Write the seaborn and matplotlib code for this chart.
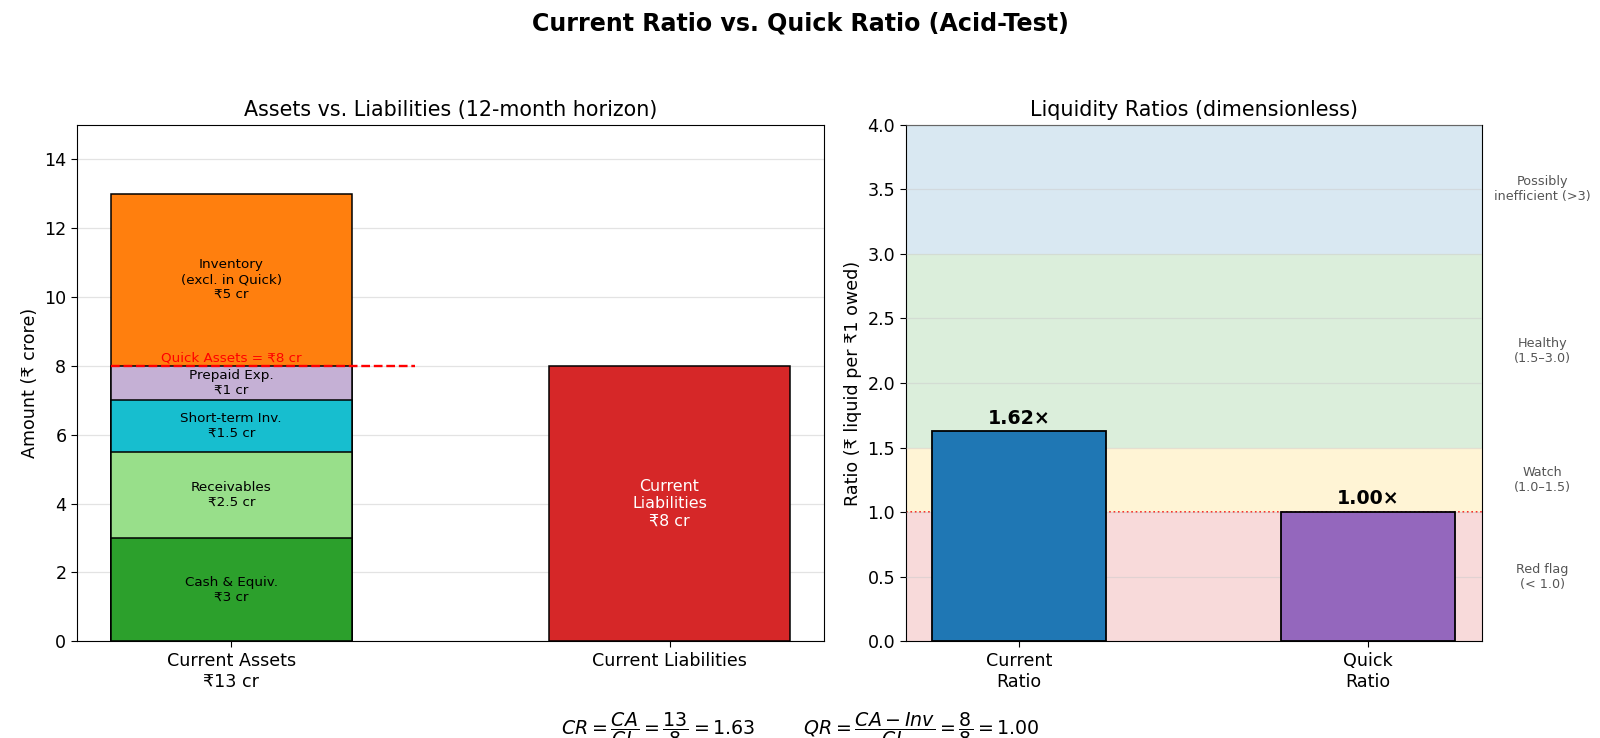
import matplotlib
matplotlib.use("Agg")
import matplotlib.pyplot as plt
import matplotlib.transforms as mtransforms
import seaborn as sns
import pandas as pd

# ---- data ----
asset_items = ["Cash & Equiv.", "Receivables", "Short-term Inv.", "Prepaid Exp.", "Inventory\n(excl. in Quick)"]
asset_values = [3, 2.5, 1.5, 1, 5]
asset_colors = ["#2ca02c", "#98df8a", "#17becf", "#c5b0d5", "#ff7f0e"]
left_categories = ["Current Assets\n₹13 cr", "Current Liabilities"]
liabilities_value = 8
quick_assets = 8

ratio_names = ["Current\nRatio", "Quick\nRatio"]
ratio_values = [13 / 8, 8 / 8]
ratio_colors = ["#1f77b4", "#9467bd"]

zone_bounds = [(0, 1.0), (1.0, 1.5), (1.5, 3.0), (3.0, 4.0)]
zone_colors = ["#d62728", "#ffc107", "#2ca02c", "#1f77b4"]
zone_labels = ["Red flag\n(< 1.0)", "Watch\n(1.0–1.5)", "Healthy\n(1.5–3.0)", "Possibly\ninefficient (>3)"]

S = 1.143  # font scale

sns.set_style("white")
plt.rcParams["font.family"] = ["DejaVu Sans"]
plt.rcParams["axes.edgecolor"] = "black"
plt.rcParams["text.color"] = "black"
plt.rcParams["axes.labelcolor"] = "black"
plt.rcParams["xtick.color"] = "black"
plt.rcParams["ytick.color"] = "black"
plt.rcParams["xtick.bottom"] = True
plt.rcParams["ytick.left"] = True
plt.rcParams["xtick.major.size"] = 4
plt.rcParams["ytick.major.size"] = 4

fig = plt.figure(figsize=(16, 7.38), dpi=100)
ax1 = fig.add_axes([0.048, 0.131, 0.467, 0.700])
ax2 = fig.add_axes([0.566, 0.131, 0.360, 0.700])

# ---- left: stacked assets vs liabilities (cumulative overlap drawing) ----
cum = []
s = 0
for v in asset_values:
    s += v
    cum.append(s)
for i in range(len(asset_values) - 1, -1, -1):
    df = pd.DataFrame({"cat": [left_categories[0]], "val": [cum[i]]})
    sns.barplot(data=df, x="cat", y="val", order=left_categories, color=asset_colors[i],
                saturation=1, width=0.55, edgecolor="black", linewidth=1.1, ax=ax1, zorder=2)
df = pd.DataFrame({"cat": [left_categories[1]], "val": [liabilities_value]})
sns.barplot(data=df, x="cat", y="val", order=left_categories, color="#d62728",
            saturation=1, width=0.55, edgecolor="black", linewidth=1.1, ax=ax1, zorder=2)

bottom = 0
for name, v in zip(asset_items, asset_values):
    ax1.text(0, bottom + v / 2, f"{name}\n₹{v:g} cr", ha="center", va="center", fontsize=8.5 * S, zorder=4)
    bottom += v
ax1.text(1, liabilities_value / 2, f"Current\nLiabilities\n₹{liabilities_value} cr", ha="center",
         va="center", fontsize=10 * S, color="white", zorder=4)

ax1.plot([-0.275, 0.42], [quick_assets, quick_assets], ls="--", color="red", lw=1.7, zorder=5)
ax1.text(0, quick_assets + 0.03, f"Quick Assets = ₹{quick_assets} cr", color="red", ha="center",
         va="bottom", fontsize=8.5 * S, zorder=5)

ax1.set_xlim(-0.3525, 1.3525)
ax1.set_ylim(0, 15)
ax1.set_yticks(range(0, 15, 2))
ax1.yaxis.grid(True, color="#dddddd", lw=0.9, alpha=0.8)
ax1.set_axisbelow(True)
ax1.set_xlabel("")
ax1.set_ylabel("Amount (₹ crore)", fontsize=11 * S)
ax1.set_title("Assets vs. Liabilities (12-month horizon)", fontsize=13 * S)
ax1.tick_params(labelsize=11 * S)
for sp in ax1.spines.values():
    sp.set_visible(True)
    sp.set_color("black")

# ---- right: ratios ----
for (lo, hi), c in zip(zone_bounds, zone_colors):
    ax2.axhspan(lo, hi, color=c, alpha=0.17, lw=0, zorder=0)
ax2.axhline(1.0, color="red", ls=":", lw=1.2, zorder=1)

rdf = pd.DataFrame({"name": ratio_names, "val": ratio_values})
sns.barplot(data=rdf, x="name", y="val", hue="name", palette=ratio_colors, saturation=1,
            width=0.5, edgecolor="black", linewidth=1.3, legend=False, ax=ax2, zorder=3)
for i, v in enumerate(ratio_values):
    ax2.text(i, v + 0.03, f"{v:.2f}×", ha="center", va="bottom", fontsize=12 * S, fontweight="bold", zorder=4)

trans = mtransforms.blended_transform_factory(ax2.transAxes, ax2.transData)
for (lo, hi), lab in zip(zone_bounds, zone_labels):
    ax2.text(1.106, (lo + hi) / 2, lab, transform=trans, ha="center", va="center",
             fontsize=8 * S, color="#555555")

ax2.set_xlim(-0.325, 1.325)
ax2.set_ylim(0, 4)
ax2.set_yticks([0, 0.5, 1, 1.5, 2, 2.5, 3, 3.5, 4])
ax2.set_yticklabels([f"{t:.1f}" for t in [0, 0.5, 1, 1.5, 2, 2.5, 3, 3.5, 4]])
ax2.yaxis.grid(True, color="#cccccc", lw=0.9, alpha=0.5)
ax2.set_axisbelow(False)
ax2.set_xlabel("")
ax2.set_ylabel("Ratio (₹ liquid per ₹1 owed)", fontsize=11 * S)
ax2.set_title("Liquidity Ratios (dimensionless)", fontsize=13 * S)
ax2.tick_params(labelsize=11 * S)
for sp in ax2.spines.values():
    sp.set_visible(True)
    sp.set_color("black")

fig.suptitle("Current Ratio vs. Quick Ratio (Acid-Test)", fontsize=15 * S, fontweight="bold", y=0.985)
fig.text(0.5, -0.014,
         r"$CR = \dfrac{CA}{CL} = \dfrac{13}{8} = 1.63$        $QR = \dfrac{CA - Inv}{CL} = \dfrac{8}{8} = 1.00$",
         ha="center", va="bottom", fontsize=12 * S)

fig.savefig("out.png", dpi=100)
